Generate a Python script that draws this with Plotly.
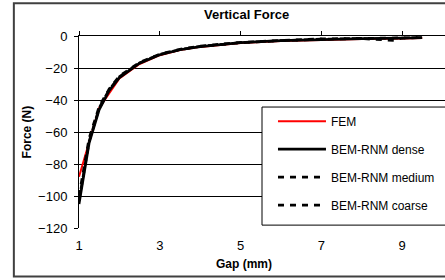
import plotly.graph_objects as go

# Data
gap_fem = [1, 1.5, 2, 2.5, 3, 3.5, 4, 5, 6, 7, 8, 9, 9.5]
force_fem = [-88, -45, -26.5, -17.5, -12, -8.8, -6.8, -4.4, -3.1, -2.4, -1.9, -1.5, -1.2]

gap_dense = [1, 1.25, 1.5, 1.75, 2, 2.5, 3, 3.5, 4, 5, 6, 7, 8, 9, 9.5]
force_dense = [-105, -67, -46, -34, -26, -17, -11.7, -8.6, -6.6, -4.2, -2.9, -2.2, -1.7, -1.3, -1.1]

gap_medium = [1, 1.25, 1.5, 1.75, 2, 2.5, 3, 3.5, 4, 5, 6, 7, 8, 8.8, 9, 9.5]
force_medium = [-103, -66, -45, -33.5, -25.5, -16.8, -11.5, -8.5, -6.5, -4.2, -2.9, -2.0, -1.6, -2.8, -1.3, -1.0]

gap_coarse = [1, 1.25, 1.5, 1.75, 2, 2.5, 3, 3.5, 4, 5, 6, 7, 8, 9, 9.5]
force_coarse = [-100, -64, -44, -33, -25, -16.5, -11.3, -8.3, -6.3, -4.0, -2.8, -1.8, -1.5, -1.2, -1.0]

x_ticks = [1, 3, 5, 7, 9]
y_ticks = [0, -20, -40, -60, -80, -100, -120]

FONT = "Liberation Sans, Arial, sans-serif"

fig = go.Figure()
fig.add_trace(go.Scatter(x=gap_fem, y=force_fem, mode="lines", name="FEM",
                         line=dict(color="#ff0000", width=2), legendgroup="a"))
fig.add_trace(go.Scatter(x=gap_dense, y=force_dense, mode="lines", name="BEM-RNM dense",
                         line=dict(color="black", width=2.7), legendgroup="b"))
fig.add_trace(go.Scatter(x=gap_medium, y=force_medium, mode="lines", name="BEM-RNM medium",
                         line=dict(color="black", width=2.7, dash="6px,6px"), legendgroup="c"))
fig.add_trace(go.Scatter(x=gap_coarse, y=force_coarse, mode="lines", name="BEM-RNM coarse",
                         line=dict(color="black", width=2.7, dash="6px,6px"), legendgroup="d"))
# invisible helper trace for the top tick axis
fig.add_trace(go.Scatter(x=[1], y=[0], xaxis="x2", mode="markers",
                         marker=dict(opacity=0), showlegend=False, hoverinfo="skip"))

fig.update_layout(
    width=445, height=280,
    margin=dict(l=79, r=0, t=36, b=52),
    paper_bgcolor="white", plot_bgcolor="white",
    font=dict(family=FONT, size=12, color="black"),
    showlegend=True,
    legend=dict(x=0.53, y=0.632, xanchor="left", yanchor="top",
                bgcolor="rgba(0,0,0,0)", borderwidth=0,
                font=dict(size=12, family=FONT), tracegroupgap=9,
                itemwidth=48),
    xaxis=dict(range=[1, 10.065], tickvals=x_ticks, ticks="", showgrid=False,
               zeroline=False, showline=False, tickfont=dict(size=13),
               ticklabelstandoff=8),
    xaxis2=dict(range=[1, 10.065], tickvals=x_ticks, overlaying="x", side="top",
                anchor="y", ticks="outside", ticklen=4, tickcolor="black",
                showticklabels=False, showgrid=False, showline=True,
                linecolor="black", linewidth=1, zeroline=False),
    yaxis=dict(range=[-120, 0], tickvals=y_ticks, showgrid=True, gridcolor="black",
               gridwidth=1, zeroline=False, showline=True, linecolor="black",
               linewidth=1, ticks="outside", ticklen=4, tickcolor="black",
               tickfont=dict(size=13), ticklabelstandoff=4),
    shapes=[
        dict(type="rect", xref="paper", yref="paper", x0=-0.178, x1=1.2, y0=-0.252, y1=1.17,
             line=dict(color="#404040", width=2), fillcolor="rgba(0,0,0,0)", layer="below"),
        dict(type="rect", xref="paper", yref="paper", x0=0.5, x1=1.2, y0=0.015, y1=0.63,
             line=dict(color="black", width=1), fillcolor="white", layer="above"),
    ],
    annotations=[
        dict(text="<b>Vertical Force</b>", xref="paper", yref="paper", x=0.459, y=1.11,
             showarrow=False, font=dict(size=13, family=FONT), xanchor="center", yanchor="middle"),
        dict(text="<b>Gap (mm)</b>", xref="paper", yref="paper", x=0.45, y=-0.19,
             showarrow=False, font=dict(size=12, family=FONT), xanchor="center", yanchor="middle"),
        dict(text="<b>Force (N)</b>", xref="paper", yref="paper", x=-0.141, y=0.5,
             showarrow=False, textangle=-90, font=dict(size=12, family=FONT),
             xanchor="center", yanchor="middle"),
    ],
)

fig.write_html("out.html", config={"displayModeBar": False},
               post_script="document.body.style.margin='0';")
